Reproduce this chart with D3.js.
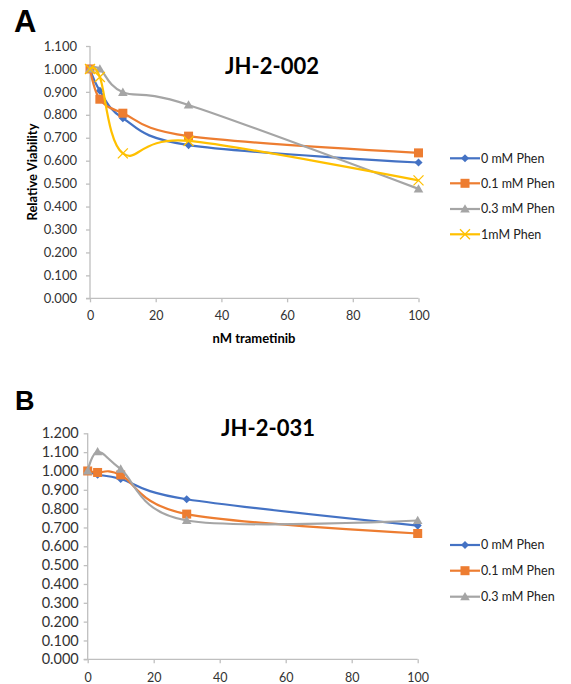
<!DOCTYPE html>
<html>
<head>
<meta charset="utf-8">
<script src="https://cdn.jsdelivr.net/npm/d3@7"></script>
<style>
  body { margin: 0; background: #fff; }
  svg { display: block; font-family: Lato, "Open Sans", sans-serif; }
</style>
</head>
<body>
<div id="chart-container"></div>
<script>
// -------------------- DATA --------------------
const doses = [0, 3, 10, 30, 100];

const seriesNames = ["0 mM Phen", "0.1 mM Phen", "0.3 mM Phen", "1mM Phen"];

// panel A : JH-2-002
const a0   = [1.000, 0.905, 0.785, 0.668, 0.592];
const a01  = [1.000, 0.868, 0.807, 0.707, 0.634];
const a03  = [1.000, 1.000, 0.898, 0.843, 0.477];
const a1   = [1.000, 0.965, 0.632, 0.686, 0.514];

// panel B : JH-2-031
const b0   = [1.000, 0.980, 0.958, 0.850, 0.710];
const b01  = [1.000, 0.992, 0.979, 0.771, 0.668];
const b03  = [1.000, 1.102, 1.010, 0.737, 0.737];

const yTicksA = [0, 0.1, 0.2, 0.3, 0.4, 0.5, 0.6, 0.7, 0.8, 0.9, 1.0, 1.1];
const yTicksB = [0, 0.1, 0.2, 0.3, 0.4, 0.5, 0.6, 0.7, 0.8, 0.9, 1.0, 1.1, 1.2];
const xTicks = [0, 20, 40, 60, 80, 100];

const colors = ["#4472C4", "#ED7D31", "#A5A5A5", "#FFC000"];
const markers = ["diamond", "square", "triangle", "cross"];

// -------------------- DRAW --------------------
const svg = d3.select("#chart-container")
  .append("svg")
  .attr("width", 571)
  .attr("height", 684);

function marker(g, type, color, cx, cy) {
  if (type === "diamond") {
    g.append("path")
      .attr("d", d3.symbol(d3.symbolDiamond2, 42)())
      .attr("transform", `translate(${cx},${cy})`)
      .attr("fill", color);
  } else if (type === "square") {
    g.append("rect")
      .attr("x", cx - 4.5).attr("y", cy - 4.5)
      .attr("width", 9).attr("height", 9)
      .attr("fill", color);
  } else if (type === "triangle") {
    g.append("path")
      .attr("d", d3.symbol(d3.symbolTriangle, 40)())
      .attr("transform", `translate(${cx},${cy + 0.8})`)
      .attr("fill", color);
  } else {
    g.append("path")
      .attr("d", `M${cx - 5},${cy - 5}L${cx + 5},${cy + 5}M${cx - 5},${cy + 5}L${cx + 5},${cy - 5}`)
      .attr("stroke", color)
      .attr("stroke-width", 1.3);
  }
}

function drawPanel(opt) {
  const x = d3.scaleLinear().domain([0, 100]).range(opt.xRange);
  const y = d3.scaleLinear().domain([0, opt.yMax]).range(opt.yRange);

  const g = svg.append("g");

  // panel letter
  g.append("text")
    .attr("x", opt.letterPos[0]).attr("y", opt.letterPos[1])
    .attr("font-family", "'Liberation Sans', Arial, sans-serif")
    .attr("font-weight", "bold")
    .attr("font-size", opt.letterSize)
    .attr("fill", "#000")
    .text(opt.letter);

  // title
  g.append("text")
    .attr("x", opt.titlePos[0]).attr("y", opt.titlePos[1])
    .attr("text-anchor", "middle")
    .attr("font-weight", "bold")
    .attr("font-size", 22)
    .attr("fill", "#000")
    .text(opt.title);

  // y axis
  const yAxis = d3.axisLeft(y)
    .tickValues(opt.yTicks)
    .tickFormat(d3.format(".3f"))
    .tickSize(4)
    .tickPadding(opt.yPad);
  const ya = g.append("g")
    .attr("transform", `translate(${opt.xRange[0]},0)`)
    .call(yAxis);
  ya.select(".domain").attr("stroke", "#BFBFBF").attr("stroke-width", 1.3)
    .attr("d", `M-4,${opt.yRange[0]}H0V${opt.yRange[1]}`);
  ya.selectAll(".tick line").attr("stroke", "#BFBFBF").attr("stroke-width", 1.3);
  ya.selectAll(".tick text")
    .attr("font-size", opt.yFont)
    .attr("font-family", "Lato, sans-serif")
    .attr("fill", "#333");

  // x axis
  const xAxis = d3.axisBottom(x)
    .tickValues(xTicks)
    .tickSize(4)
    .tickPadding(opt.xPad);
  const xa = g.append("g")
    .attr("transform", `translate(0,${opt.yRange[0]})`)
    .call(xAxis);
  xa.select(".domain").attr("stroke", "#BFBFBF").attr("stroke-width", 1.3)
    .attr("d", `M${opt.xRange[0]},0H${opt.xRange[1]}`);
  xa.selectAll(".tick line").attr("stroke", "#BFBFBF").attr("stroke-width", 1.3);
  xa.selectAll(".tick text")
    .attr("font-size", 12.5)
    .attr("font-family", "Lato, sans-serif")
    .attr("fill", "#333");

  // axis titles
  if (opt.yTitle) {
    g.append("text")
      .attr("transform", `translate(${opt.yTitlePos[0]},${opt.yTitlePos[1]}) rotate(-90)`)
      .attr("text-anchor", "middle")
      .attr("font-weight", "bold")
      .attr("font-size", 13)
      .attr("fill", "#000")
      .text(opt.yTitle);
  }
  if (opt.xTitle) {
    g.append("text")
      .attr("x", opt.xTitlePos[0]).attr("y", opt.xTitlePos[1])
      .attr("text-anchor", "middle")
      .attr("font-weight", "bold")
      .attr("font-size", 13)
      .attr("fill", "#000")
      .text(opt.xTitle);
  }

  const line = d3.line()
    .x((d, i) => x(doses[i]))
    .y(d => y(d))
    .curve(d3.curveCardinal.tension(0));

  opt.series.forEach((vals, si) => {
    g.append("path")
      .datum(vals)
      .attr("fill", "none")
      .attr("stroke", colors[si])
      .attr("stroke-width", 2.2)
      .attr("d", line);
    vals.forEach((v, i) => marker(g, markers[si], colors[si], x(doses[i]), y(v)));
  });

  // legend
  opt.series.forEach((vals, si) => {
    const ly = opt.legendY[si];
    g.append("line")
      .attr("x1", 450).attr("x2", 480)
      .attr("y1", ly).attr("y2", ly)
      .attr("stroke", colors[si])
      .attr("stroke-width", 2.2);
    marker(g, markers[si], colors[si], 465, ly);
    g.append("text")
      .attr("x", 481).attr("y", ly)
      .attr("dy", "0.35em")
      .attr("font-size", 12.5)
      .attr("fill", "#222")
      .text(seriesNames[si]);
  });
}

drawPanel({
  letter: "A", letterPos: [14, 32], letterSize: 31,
  title: "JH-2-002", titlePos: [272, 74],
  xRange: [90, 418.5], yRange: [298.3, 46], yMax: 1.1,
  yTicks: yTicksA, yFont: 13, yPad: 9, xPad: 9,
  yTitle: "Relative Viability", yTitlePos: [37, 172],
  xTitle: "nM trametinib", xTitlePos: [254, 343],
  series: [a0, a01, a03, a1],
  legendY: [158.3, 183.3, 209, 234.3]
});

drawPanel({
  letter: "B", letterPos: [15, 409.5], letterSize: 27,
  title: "JH-2-031", titlePos: [268, 436],
  xRange: [87.7, 417.7], yRange: [659.3, 433.3], yMax: 1.2,
  yTicks: yTicksB, yFont: 14.5, yPad: 5, xPad: 10,
  series: [b0, b01, b03],
  legendY: [545, 570.7, 596.7]
});
</script>
</body>
</html>
